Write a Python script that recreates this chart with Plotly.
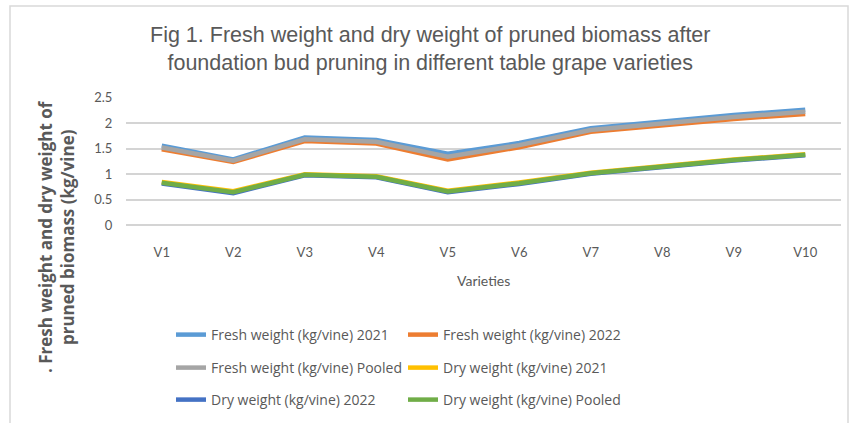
import plotly.graph_objects as go

varieties = ["V1", "V2", "V3", "V4", "V5", "V6", "V7", "V8", "V9", "V10"]
fresh_2021 = [1.56, 1.29, 1.72, 1.67, 1.40, 1.61, 1.90, 2.04, 2.16, 2.26]
fresh_2022 = [1.49, 1.24, 1.65, 1.60, 1.29, 1.53, 1.83, 1.96, 2.08, 2.18]
fresh_pooled = [1.525, 1.265, 1.685, 1.635, 1.345, 1.57, 1.865, 2.00, 2.12, 2.22]
dry_2021 = [0.85, 0.67, 1.00, 0.96, 0.68, 0.84, 1.03, 1.16, 1.29, 1.39]
dry_2022 = [0.82, 0.63, 0.98, 0.94, 0.65, 0.81, 1.01, 1.14, 1.27, 1.37]
dry_pooled = [0.835, 0.65, 0.99, 0.95, 0.665, 0.825, 1.02, 1.15, 1.28, 1.38]

series = [
    ("Fresh weight (kg/vine) 2021", fresh_2021, "#5B9BD5", "legend"),
    ("Fresh weight (kg/vine) 2022", fresh_2022, "#ED7D31", "legend"),
    ("Fresh weight (kg/vine) Pooled", fresh_pooled, "#A5A5A5", "legend2"),
    ("Dry weight (kg/vine) 2021", dry_2021, "#FFC000", "legend2"),
    ("Dry weight (kg/vine) 2022", dry_2022, "#4472C4", "legend3"),
    ("Dry weight (kg/vine) Pooled", dry_pooled, "#70AD47", "legend3"),
]

fig = go.Figure()
for name, vals, color, lg in series:
    fig.add_trace(go.Scatter(x=varieties, y=vals, name=name, mode="lines",
                             line=dict(color=color, width=4.5), legend=lg))

W, H = 852, 423
L, R, T, B = 126, 11, 97, 197
pw, ph = W - L - R, H - T - B

def px(x):
    return (x - L) / pw

def py(y):
    return (H - B - y) / ph

font_main = "Lato"
font_leg = "Open Sans"
grey = "#595959"
grid = "#D4D4D4"

legend_common = dict(orientation="h", xanchor="left", yanchor="middle",
                     x=px(171), entrywidth=187, entrywidthmode="pixels",
                     font=dict(family=font_leg, size=14, color=grey),
                     bgcolor="rgba(0,0,0,0)", tracegroupgap=0, itemwidth=30)

fig.update_layout(
    width=W, height=H,
    margin=dict(l=L, r=R, t=T, b=B, autoexpand=False),
    paper_bgcolor="white", plot_bgcolor="white",
    showlegend=True,
    legend=dict(legend_common, y=py(335)),
    legend2=dict(legend_common, y=py(368)),
    legend3=dict(legend_common, y=py(400)),
    xaxis=dict(showgrid=False, zeroline=False, showline=False,
               range=[-0.5, 9.5], automargin=False,
               ticks="outside", ticklen=14, tickcolor="rgba(0,0,0,0)",
               tickfont=dict(family=font_main, size=13, color=grey)),
    yaxis=dict(range=[-0.01, 2.51], dtick=0.5, showgrid=True, gridcolor=grid,
               gridwidth=1.5, zeroline=True, zerolinecolor=grid, zerolinewidth=1.5,
               showline=False, automargin=False,
               ticks="outside", ticklen=10, tickcolor="rgba(0,0,0,0)",
               tickfont=dict(family=font_main, size=13, color=grey)),
    annotations=[
        dict(text="Fig 1. Fresh weight and dry weight of pruned biomass after<br>foundation bud pruning in different table grape varieties",
             xref="paper", yref="paper", x=px(430), y=py(49), xanchor="center", yanchor="middle",
             showarrow=False, font=dict(family="Liberation Sans", size=21.5, color=grey)),
        dict(text="Varieties", xref="paper", yref="paper", x=px(483), y=py(280),
             xanchor="center", yanchor="middle", showarrow=False,
             font=dict(family=font_main, size=14, color=grey)),
        dict(text="<b>. Fresh weight and dry weight of<br>pruned biomass (kg/vine)</b>",
             xref="paper", yref="paper", x=px(56), y=py(237), textangle=-90,
             xanchor="center", yanchor="middle", showarrow=False,
             font=dict(family=font_leg, size=17, color=grey)),
    ],
    shapes=[
        dict(type="rect", xref="paper", yref="paper", x0=px(10), x1=px(848), y0=py(440), y1=py(6),
             line=dict(color="#D9D9D9", width=1.5), fillcolor="rgba(0,0,0,0)"),
    ],
)

fig.write_html("out.html", config={"displayModeBar": False},
               post_script="document.body.style.margin='0';")
